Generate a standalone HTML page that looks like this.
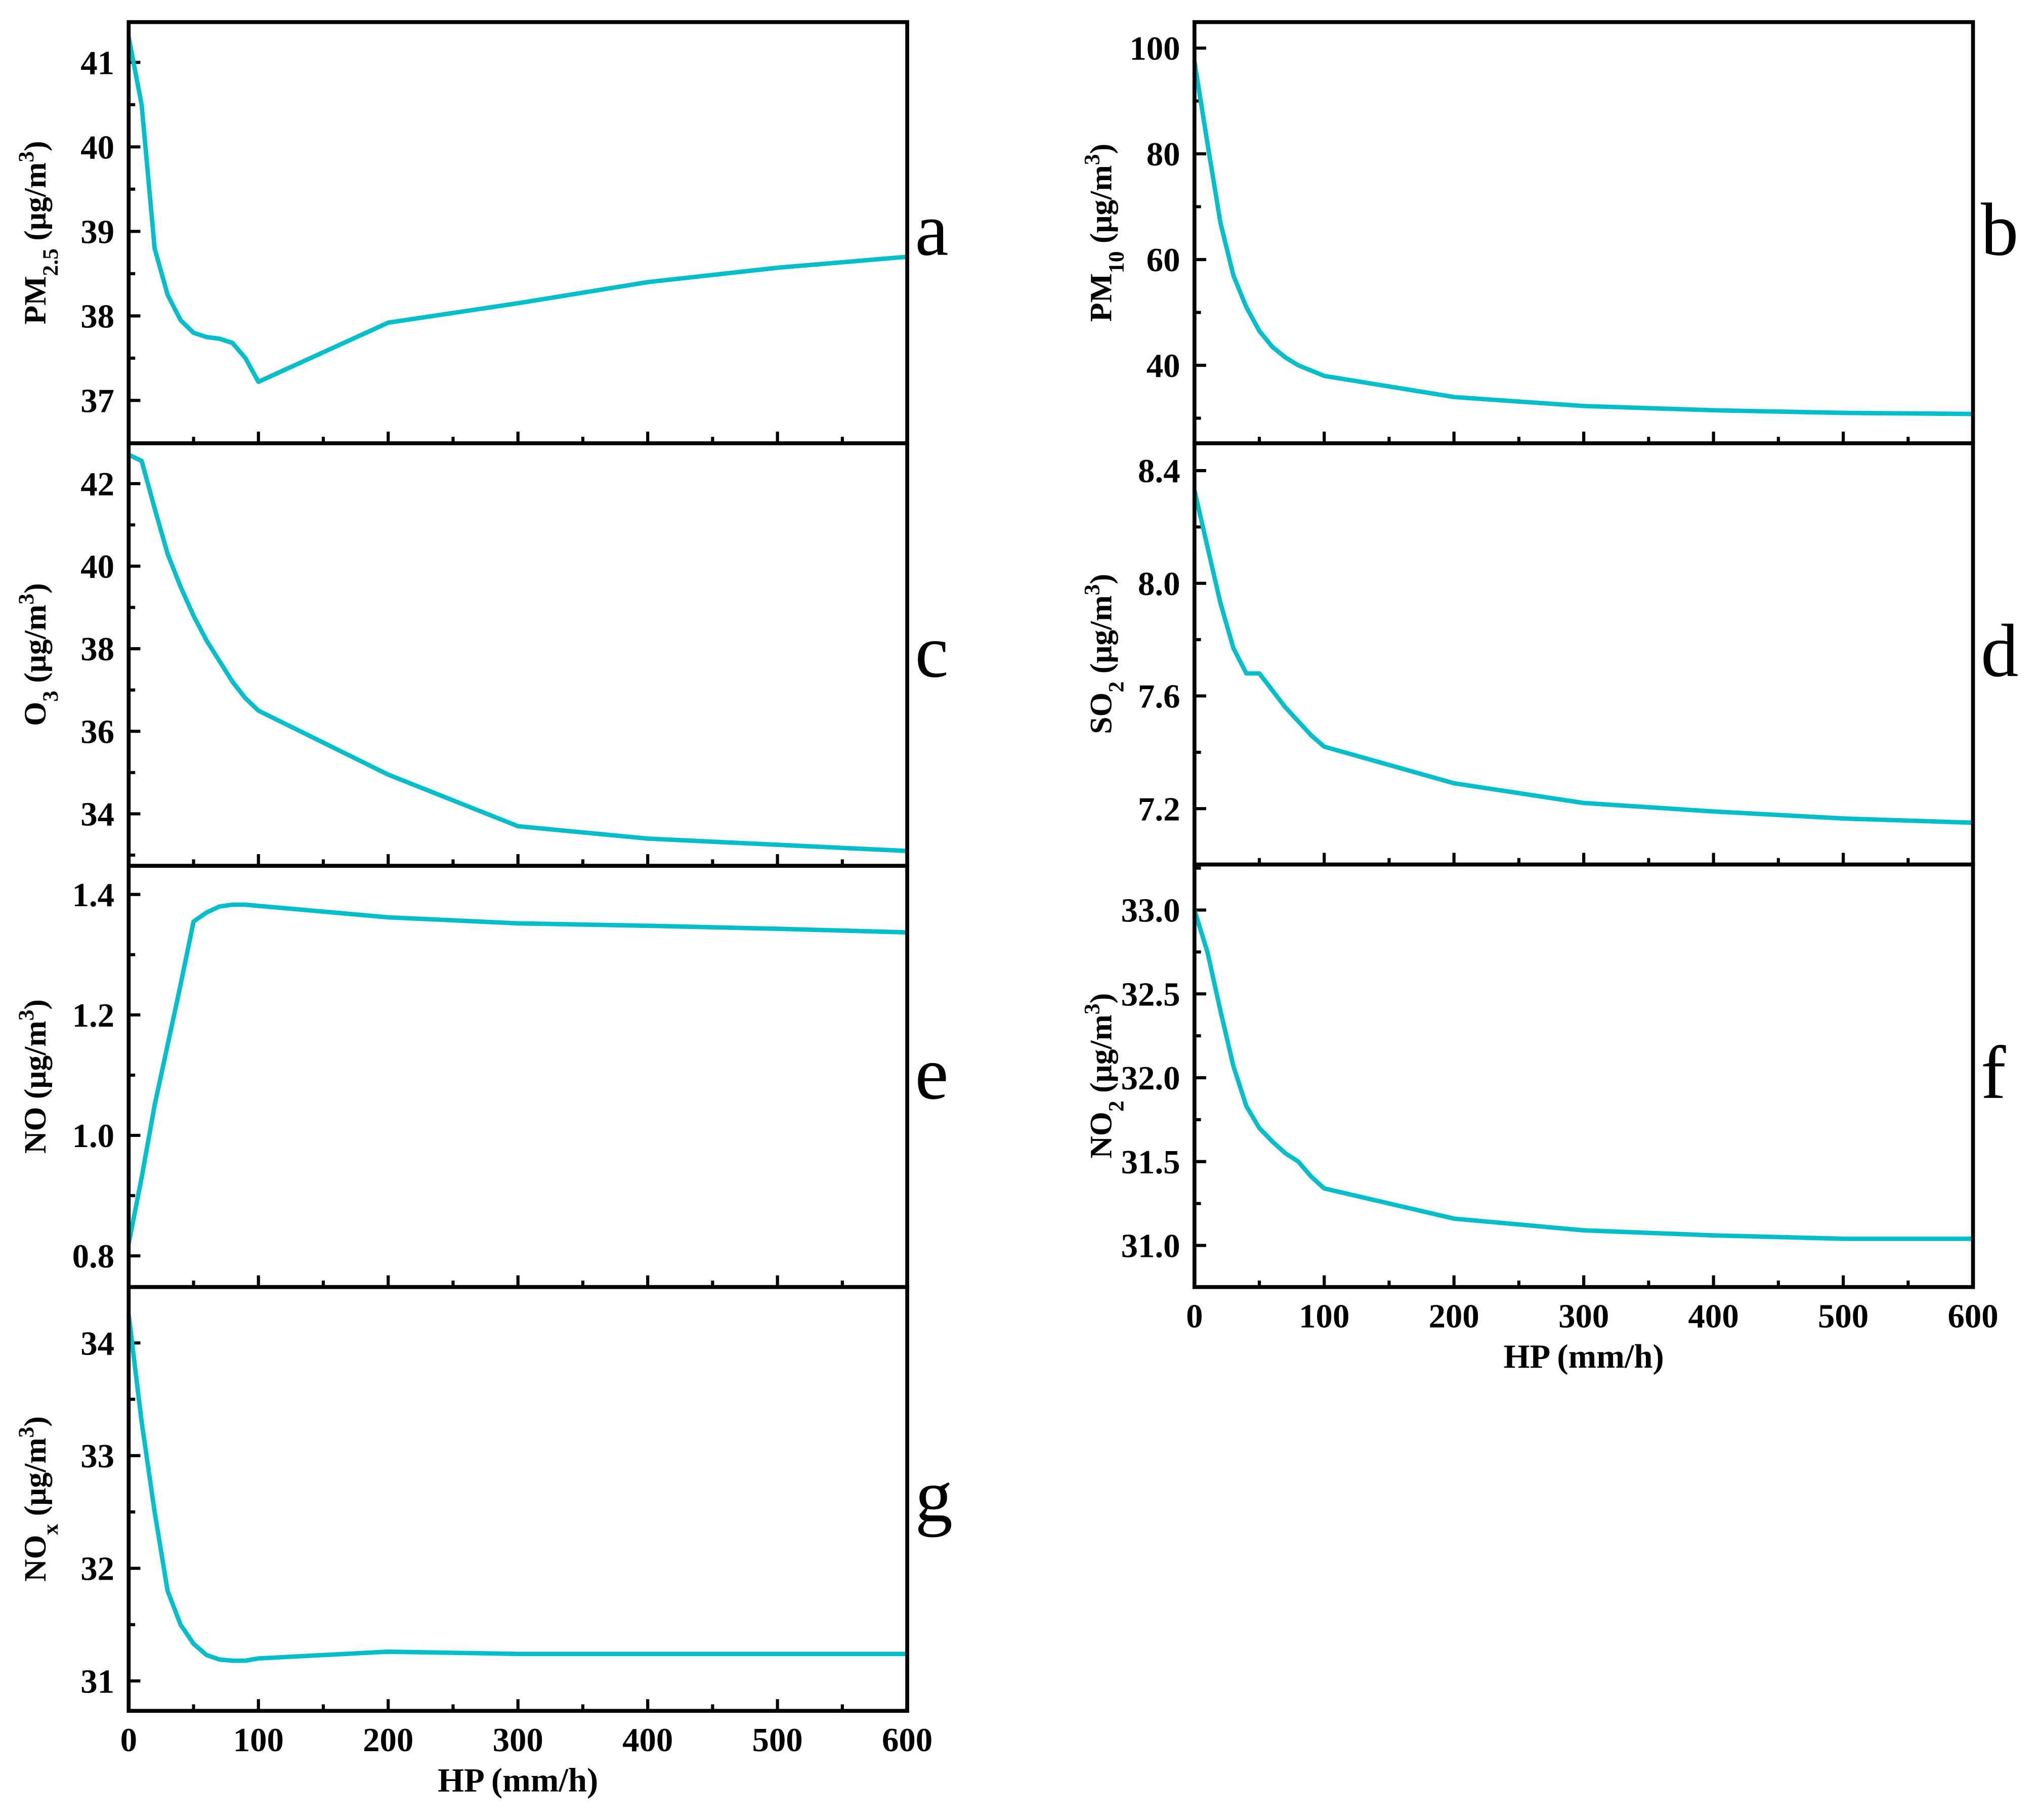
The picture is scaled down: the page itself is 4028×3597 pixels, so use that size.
<!DOCTYPE html>
<html><head><meta charset="utf-8"><style>
html,body{margin:0;padding:0;background:#fff;}
svg, svg text{font-family:"Liberation Serif","Tinos","Times New Roman","Times","Nimbus Roman","Nimbus Roman No9 L","FreeSerif",serif;}
</style></head><body>
<svg id="chart" xmlns="http://www.w3.org/2000/svg" width="4028" height="3592" viewBox="0 0 1568 1398" preserveAspectRatio="none"></svg>
<script>
const xs = [0,10,20,30,40,50,60,70,80,90,100,200,300,400,500,600];
const pm25 = [41.3,40.5,38.8,38.25,37.95,37.8,37.75,37.73,37.68,37.5,37.22,37.92,38.15,38.4,38.57,38.7];
const o3 = [42.7,42.55,41.4,40.3,39.5,38.8,38.2,37.7,37.2,36.8,36.5,34.95,33.7,33.4,33.25,33.1];
const no = [0.82,0.93,1.05,1.15,1.25,1.355,1.37,1.38,1.383,1.383,1.381,1.362,1.352,1.348,1.343,1.337];
const nox = [34.25,33.3,32.5,31.8,31.5,31.33,31.23,31.19,31.18,31.18,31.2,31.26,31.24,31.24,31.24,31.24];
const pm10 = [97.5,82,67,57,51,46.5,43.5,41.5,40,39,38,34,32.3,31.5,31,30.8];
const so2 = [8.33,8.13,7.93,7.77,7.68,7.68,7.62,7.56,7.51,7.46,7.42,7.29,7.22,7.19,7.165,7.15];
const no2 = [33.0,32.75,32.4,32.07,31.83,31.7,31.62,31.55,31.5,31.41,31.34,31.16,31.09,31.06,31.04,31.04];
const xTicks = [0,100,200,300,400,500,600];
const ticksA = [37,38,39,40,41];
const ticksC = [34,36,38,40,42];
const ticksE = [0.8,1.0,1.2,1.4];
const ticksG = [31,32,33,34];
const ticksB = [40,60,80,100];
const ticksD = [7.2,7.6,8.0,8.4];
const ticksF = [31.0,31.5,32.0,32.5,33.0];

const NS="http://www.w3.org/2000/svg";
const svg=document.getElementById('chart');
function mk(tag,attrs,parent){const e=document.createElementNS(NS,tag);for(const k in attrs)e.setAttribute(k,attrs[k]);(parent||svg).appendChild(e);return e;}

const panels=[
 {id:'a',x0:99,x1:698,y0:17,y1:341,v0:37,p0:308,v1:41,p1:48,ticks:ticksA,minor:0.5,dec:0,data:pm25,title:['PM','2.5'],letter:'a',xlab:false},
 {id:'c',x0:99,x1:698,y0:341,y1:666,v0:34,p0:626,v1:42,p1:372,ticks:ticksC,minor:1,dec:0,data:o3,title:['O','3'],letter:'c',xlab:false},
 {id:'e',x0:99,x1:698,y0:666,y1:990,v0:0.8,p0:966,v1:1.4,p1:688,ticks:ticksE,minor:0.1,dec:1,data:no,title:['NO',''],letter:'e',xlab:false},
 {id:'g',x0:99,x1:698,y0:990,y1:1316,v0:31,p0:1293,v1:34,p1:1033,ticks:ticksG,minor:0.5,dec:0,data:nox,title:['NO','x'],letter:'g',xlab:true},
 {id:'b',x0:919,x1:1518,y0:17,y1:341,v0:40,p0:281,v1:100,p1:37,ticks:ticksB,minor:10,dec:0,data:pm10,title:['PM','10'],letter:'b',xlab:false},
 {id:'d',x0:919,x1:1518,y0:341,y1:665,v0:7.2,p0:622,v1:8.4,p1:362,ticks:ticksD,minor:0.2,dec:1,data:so2,title:['SO','2'],letter:'d',xlab:false},
 {id:'f',x0:919,x1:1518,y0:665,y1:990,v0:31,p0:958,v1:33,p1:700,ticks:ticksF,minor:0.25,dec:1,data:no2,title:['NO','2'],letter:'f',xlab:true},
];

panels.forEach(p=>{
  const g=mk('g',{});
  
  
  const sx=v=>p.x0+(v-0)/(600-0)*(p.x1-p.x0);
  const sy=v=>p.p0+(v-p.v0)/(p.v1-p.v0)*(p.p1-p.p0);
  xTicks.forEach(t=>{
    const tk=mk('line',{x1:sx(t),x2:sx(t),y1:p.y1,y2:p.y1-9,stroke:'#000','stroke-width':2.4},g);
    
    
    if(t<600){const m=mk('line',{x1:sx(t+50),x2:sx(t+50),y1:p.y1,y2:p.y1-5,stroke:'#000','stroke-width':2.4},g);
      
      }
    if(p.xlab){const tl=mk('text',{x:sx(t),y:p.y1+31,'text-anchor':'middle','font-size':26,'font-weight':'bold'},g);tl.textContent=t;
      
      }
  });
  const lo=p.ticks[0]-p.minor*2, hi=p.ticks[p.ticks.length-1]+p.minor*2;
  for(let v=lo; v<=hi+1e-9; v+=p.minor){
    const y=sy(v); if(y<p.y0+2||y>p.y1-2) continue;
    const isMaj=p.ticks.some(t=>Math.abs(t-v)<1e-6);
    const m=mk('line',{x1:p.x0,x2:p.x0+(isMaj?9:5),y1:y,y2:y,stroke:'#000','stroke-width':2.4},g);
    
    
  }
  p.ticks.forEach(t=>{
    const tl=mk('text',{x:p.x0-11,y:sy(t)+9,'text-anchor':'end','font-size':26,'font-weight':'bold'},g);
    tl.textContent=t.toFixed(p.dec);
    
    
  });
  const d=p.data.map((v,i)=>(i?'L':'M')+sx(xs[i]).toFixed(2)+','+sy(v).toFixed(2)).join('');
  const ln=mk('path',{d:d,fill:'none',stroke:'#00BFCB','stroke-width':3.4,'stroke-linejoin':'round'},g);
  
  
  const fr=mk('rect',{x:p.x0,y:p.y0,width:p.x1-p.x0,height:p.y1-p.y0,fill:'none',stroke:'#000','stroke-width':3},g);
  
  
  const cy=(p.y0+p.y1)/2, tx=p.x0-64;
  const tt=mk('text',{x:tx,y:cy,'text-anchor':'middle','font-size':24,'font-weight':'bold',transform:`rotate(-90 ${tx} ${cy})`},g);
  
  
  const t1=mk('tspan',{},tt);t1.textContent=p.title[0];
  if(p.title[1]){const t2=mk('tspan',{'baseline-shift':'sub','font-size':17},tt);t2.textContent=p.title[1];}
  const t3=mk('tspan',{},tt);t3.textContent=' (μg/m';
  const t4=mk('tspan',{'baseline-shift':'super','font-size':17},tt);t4.textContent='3';
  const t5=mk('tspan',{},tt);t5.textContent=')';
  const L=mk('text',{x:p.x1+6,y:cy+17,'font-size':58},g);L.textContent=p.letter;
  
  
  if(p.xlab){
    const xt=mk('text',{x:(p.x0+p.x1)/2,y:p.y1+62,'text-anchor':'middle','font-size':26,'font-weight':'bold'},g);
    xt.textContent='HP (mm/h)';
    
    
  }
});
</script>
</body></html>
